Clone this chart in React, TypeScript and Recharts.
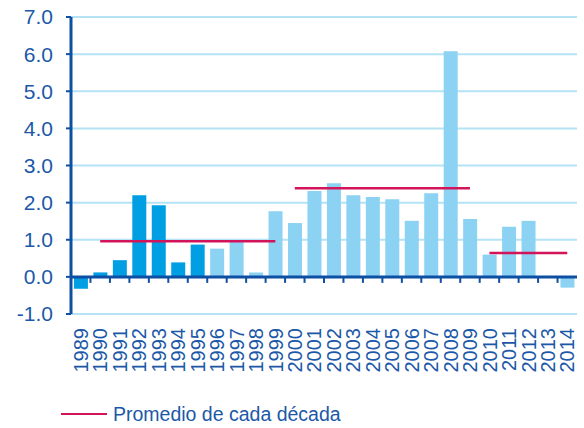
import React from 'react';
import { ComposedChart, Bar, Line, Cell, XAxis, YAxis, CartesianGrid, ReferenceLine } from 'recharts';

const YEARS = [
  '1989', '1990', '1991', '1992', '1993', '1994', '1995', '1996', '1997', '1998',
  '1999', '2000', '2001', '2002', '2003', '2004', '2005', '2006', '2007', '2008',
  '2009', '2010', '2011', '2012', '2013', '2014',
];

const VALUES = [
  -0.32, 0.12, 0.45, 2.2, 1.93, 0.39, 0.87, 0.76, 0.94, 0.12,
  1.77, 1.45, 2.31, 2.52, 2.2, 2.15, 2.09, 1.51, 2.25, 6.08,
  1.56, 0.6, 1.35, 1.51, 0, -0.29,
];

// decade averages (start year, end year, value)
const DECADE_START = [1990, 2000, 2010];
const DECADE_END = [1999, 2009, 2014];
const DECADE_AVG = [0.96, 2.39, 0.64];

const Y_TICKS = [-1, 0, 1, 2, 3, 4, 5, 6, 7];
const LAST_DARK_YEAR = 1995;
const LEGEND_LABEL = 'Promedio de cada década';

const DARK = '#009FE3';
const LIGHT = '#8CD2F2';
const AXIS = '#0D4FA3';
const TEXT = '#1C58A8';
const GRID = '#B5E3F6';
const AVG = '#D4145A';
const FONT = '"Liberation Sans", Arial, sans-serif';

const chartData = YEARS.map((year, i) => {
  const row: any = { year, value: VALUES[i] };
  DECADE_AVG.forEach((avg, d) => {
    const y = Number(year);
    row[`dec${d}`] = y >= DECADE_START[d] && y <= DECADE_END[d] ? avg : null;
  });
  return row;
});

function YearTick({ x, y, payload }: any) {
  return (
    <text
      x={x}
      y={y + 14}
      transform={`rotate(-90, ${x}, ${y + 14})`}
      textAnchor="end"
      dy="0.36em"
      fill={TEXT}
      fontSize={20}
      fontFamily={FONT}
    >
      {payload.value}
    </text>
  );
}

// zero axis line with tick marks at the category boundaries
function ZeroAxis(props: any) {
  const { x1, y1, x2, y2 } = props;
  if (x1 == null) return null;
  const n = YEARS.length;
  const step = (x2 - x1) / n;
  const ticks = [];
  for (let k = 1; k < n; k++) {
    const tx = x1 + k * step;
    ticks.push(<line key={k} x1={tx} x2={tx} y1={y1} y2={y1 + 6} stroke={AXIS} strokeWidth={2} />);
  }
  return (
    <g>
      <line x1={x1} y1={y1} x2={x2} y2={y2} stroke={AXIS} strokeWidth={3} />
      {ticks}
    </g>
  );
}

export default function App() {
  return (
    <div style={{ position: 'absolute', left: 0, top: 0, width: 584, height: 428, background: '#fff' }}>
      <ComposedChart
        width={584}
        height={428}
        data={chartData}
        margin={{ top: 17, right: 7, bottom: 44, left: 0 }}
        barCategoryGap="15%"
      >
        <CartesianGrid vertical={false} stroke={GRID} strokeWidth={2} />
        <XAxis
          dataKey="year"
          interval={0}
          axisLine={false}
          tickLine={false}
          tickSize={0}
          tickMargin={0}
          height={70}
          tick={<YearTick />}
        />
        <YAxis
          domain={[-1, 7]}
          ticks={Y_TICKS}
          width={71}
          interval={0}
          tickFormatter={(v: number) => v.toFixed(1)}
          axisLine={{ stroke: AXIS, strokeWidth: 3 }}
          tickLine={{ stroke: AXIS, strokeWidth: 2 }}
          tickSize={5}
          tickMargin={13}
          tick={{ fill: TEXT, fontSize: 21, fontFamily: FONT }}
        />
        <Bar dataKey="value" isAnimationActive={false}>
          {chartData.map((row, i) => (
            <Cell key={`cell-${i}`} fill={Number(row.year) <= LAST_DARK_YEAR ? DARK : LIGHT} />
          ))}
        </Bar>
        <ReferenceLine y={0} shape={<ZeroAxis />} />
        {DECADE_AVG.map((_, d) => (
          <Line
            key={d}
            dataKey={`dec${d}`}
            stroke={AVG}
            strokeWidth={2.5}
            dot={false}
            activeDot={false}
            legendType="none"
            isAnimationActive={false}
          />
        ))}
      </ComposedChart>
      <div
        style={{
          position: 'absolute',
          left: 61,
          top: 400,
          display: 'flex',
          alignItems: 'center',
          fontFamily: FONT,
          fontSize: 19.5,
          color: TEXT,
        }}
      >
        <svg width={47} height={28}>
          <line x1={0} x2={46} y1={14} y2={14} stroke={AVG} strokeWidth={2} />
        </svg>
        <span style={{ marginLeft: 5 }}>{LEGEND_LABEL}</span>
      </div>
    </div>
  );
}
